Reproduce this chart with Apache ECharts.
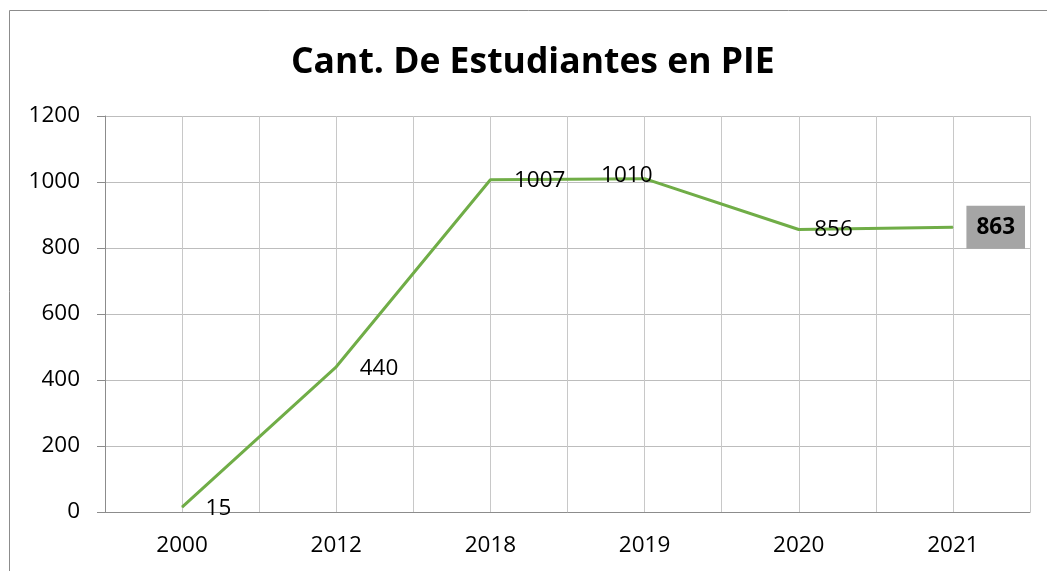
<!DOCTYPE html>
<html>
<head>
<meta charset="utf-8">
<script src="https://cdn.jsdelivr.net/npm/echarts@6/dist/echarts.min.js"></script>
<style>
  html, body { margin: 0; padding: 0; background: #fff; }
  #chart { width: 1047px; height: 571px; }
</style>
</head>
<body>
<div id="chart"></div>
<script>
// datos del grafico
const years = ['2000', '2012', '2018', '2019', '2020', '2021'];
const students = [15, 440, 1007, 1010, 856, 863];
const yTicks = [0, 200, 400, 600, 800, 1000, 1200];
// desplazamiento de cada etiqueta (como en el original)
const labelOffsets = [[23, 2], [23, 2], [23, 1], [-44, -3], [15, 0], [13, 0]];

const font = 'Open Sans';
const green = '#70ad47';

const chart = echarts.init(document.getElementById('chart'), null, { renderer: 'canvas' });

const seriesData = students.map((v, i) => {
  const item = { value: v, label: { offset: labelOffsets[i] } };
  if (i === students.length - 1) {
    // ultimo valor resaltado
    item.label = {
      offset: labelOffsets[i],
      fontWeight: 'bold',
      backgroundColor: '#a5a5a5',
      padding: [10, 10, 10, 10]
    };
  }
  return item;
});

const option = {
  backgroundColor: '#fff',
  animation: false,
  title: {
    text: 'Cant. De Estudiantes en PIE',
    left: 286,
    top: 40,
    textStyle: { fontFamily: font, fontWeight: 'bold', fontSize: 35.5, color: '#000' }
  },
  graphic: [{
    type: 'rect',
    shape: { x: 9.5, y: 10.5, width: 1100, height: 600 },
    style: { fill: 'none', stroke: '#8c8c8c', lineWidth: 1 },
    z: -1
  }],
  grid: { left: 105, right: 17, top: 116, bottom: 59 },
  xAxis: [{
    type: 'category',
    data: years,
    boundaryGap: true,
    axisLine: { lineStyle: { color: '#8c8c8c', width: 1 } },
    axisTick: { show: false },
    splitLine: { show: false },
    axisLabel: { fontFamily: font, fontSize: 22.5, color: '#000', margin: 22 }
  }, {
    // lineas verticales en centros y bordes de cada categoria
    type: 'value',
    position: 'bottom',
    min: 0,
    max: years.length * 2,
    interval: 1,
    axisLine: { show: false },
    axisTick: { show: false },
    axisLabel: { show: false },
    splitLine: { show: true, lineStyle: { color: '#c8c8c8', width: 1 } }
  }],
  yAxis: {
    type: 'value',
    min: yTicks[0],
    max: yTicks[yTicks.length - 1],
    interval: 200,
    axisLine: { show: true, lineStyle: { color: '#8c8c8c', width: 1 } },
    axisTick: { show: true, inside: false, length: 8, lineStyle: { color: '#8c8c8c' } },
    splitLine: { show: true, lineStyle: { color: '#bdbdbd', width: 1 } },
    axisLabel: {
      fontFamily: font, fontSize: 22.5, color: '#000', margin: 25,
      formatter: v => String(v)
    }
  },
  series: [{
    type: 'line',
    xAxisIndex: 0,
    data: seriesData,
    symbol: 'circle',
    symbolSize: 1,
    showSymbol: true,
    itemStyle: { color: green },
    lineStyle: { color: green, width: 3 },
    label: {
      show: true,
      position: 'right',
      distance: 0,
      fontFamily: font,
      fontSize: 22.5,
      color: '#000'
    },
    z: 3
  }]
};

chart.setOption(option);
</script>
</body>
</html>
